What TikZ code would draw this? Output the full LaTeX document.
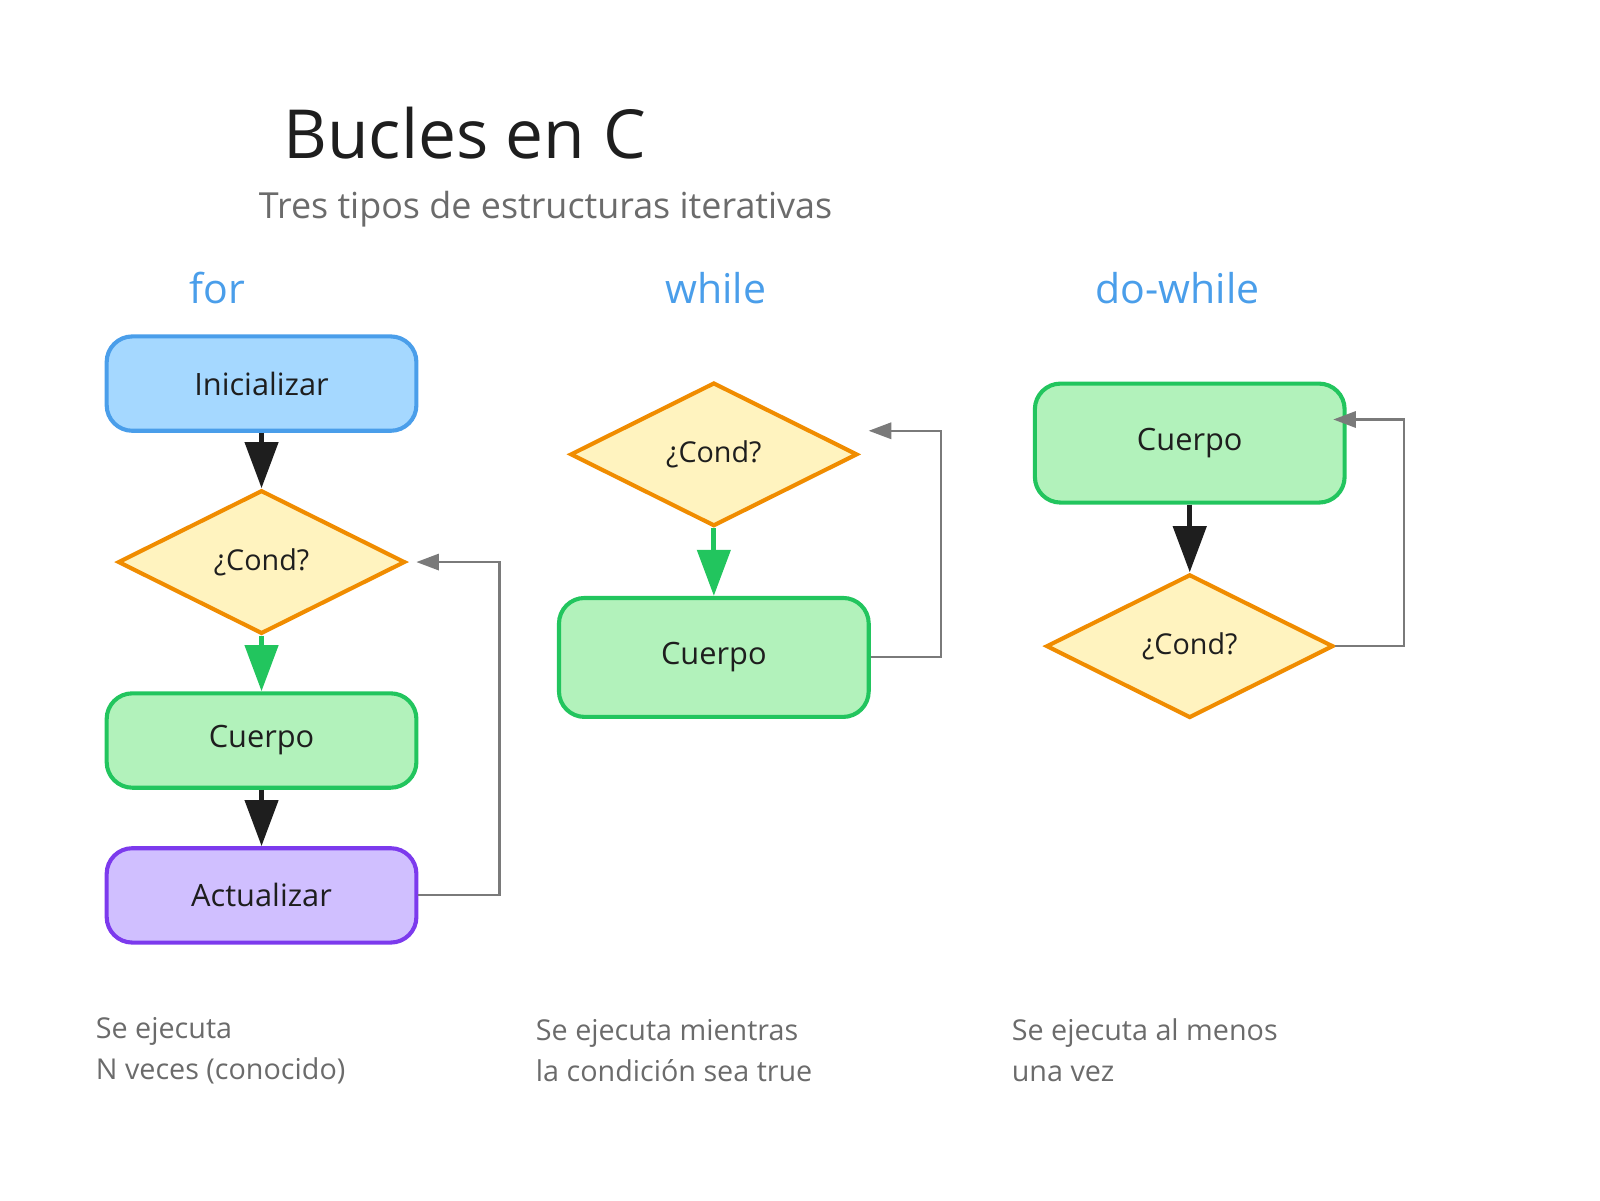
\documentclass[tikz,border=0pt]{standalone}
\usepackage{fontspec}
\setmainfont{Open Sans}
\usetikzlibrary{arrows.meta,shapes.geometric}
\definecolor{bF}{HTML}{A5D8FF}\definecolor{bD}{HTML}{4A9EEA}
\definecolor{gF}{HTML}{B2F2BB}\definecolor{gD}{HTML}{22C55E}
\definecolor{pF}{HTML}{D0BFFF}\definecolor{pD}{HTML}{7C3AED}
\definecolor{yF}{HTML}{FFF3BF}\definecolor{yD}{HTML}{F08C00}
\definecolor{txt}{HTML}{1E1E1E}\definecolor{gr}{HTML}{6B6B6B}\definecolor{ln}{HTML}{7A7A7A}
\tikzset{
 box/.style={draw,line width=4pt,rounded corners=25pt,minimum width=302pt,inner sep=0pt,font=\fontsize{30}{36}\selectfont,text=txt},
 dia/.style={draw=yD,fill=yF,line width=4pt,diamond,aspect=2,minimum width=280pt,minimum height=140pt,inner sep=0pt,font=\fontsize{28}{34}\selectfont,text=txt},
 arr/.style={line width=5pt,-{Triangle[length=45pt,width=32pt]},draw=txt},
 garr/.style={arr,draw=gD},
 back/.style={line width=2pt,draw=ln,-{Triangle[length=22pt,width=16pt]}},
 hdr/.style={text=bD,font=\fontsize{40}{48}\selectfont},
 note/.style={text=gr,anchor=west,font=\fontsize{28}{40}\selectfont,align=left}
}
\begin{document}
\begin{tikzpicture}[x=1pt,y=-1pt]
\useasboundingbox (0,0) rectangle (1560,1170);
\node[text=txt,font=\fontsize{66}{70}\selectfont] (title) at (453,130) {Bucles en C};
\node[text=gr,font=\fontsize{35}{40}\selectfont] (sub) at (532,204) {Tres tipos de estructuras iterativas};
\node[hdr] (h1) at (212,281) {for};
\node[hdr] (h2) at (698,281) {while};
\node[hdr] (h3) at (1148,281) {do-while};
% for
\node[box,draw=bD,fill=bF,minimum height=92pt] (ini) at (255,374) {Inicializar};
\node[dia] (c1) at (255,548) {¿Cond?};
\node[box,draw=gD,fill=gF,minimum height=92pt] (cu1) at (255,722) {Cuerpo};
\node[box,draw=pD,fill=pF,minimum height=92pt] (act) at (255,873) {Actualizar};
\draw[arr] (ini) -- (c1);
\draw[garr] (c1) -- (cu1);
\draw[arr] (cu1) -- (act);
\coordinate (t1) at (406,548);
\draw[back] (act.east) -- (487,873) -- (487,548) -- (t1);
% while
\node[dia] (c2) at (696,443) {¿Cond?};
\node[box,draw=gD,fill=gF,minimum height=116pt] (cu2) at (696,641) {Cuerpo};
\draw[garr] (c2) -- (cu2);
\coordinate (t2) at (847,420);
\draw[back] (cu2.east) -- (917,641) -- (917,420) -- (t2);
% do-while
\node[box,draw=gD,fill=gF,minimum height=116pt] (cu3) at (1160,432) {Cuerpo};
\node[dia] (c3) at (1160,630) {¿Cond?};
\draw[arr] (cu3) -- (c3);
\coordinate (t3) at (1300,409);
\draw[back] (c3.east) -- (1369,630) -- (1369,409) -- (t3);
% notes
\node[note] (n1) at (90,1024) {Se ejecuta\\N veces (conocido)};
\node[note] (n2) at (519,1024) {Se ejecuta mientras\\la condición sea true};
\node[note] (n3) at (983,1024) {Se ejecuta al menos\\una vez};
\end{tikzpicture}
\end{document}
